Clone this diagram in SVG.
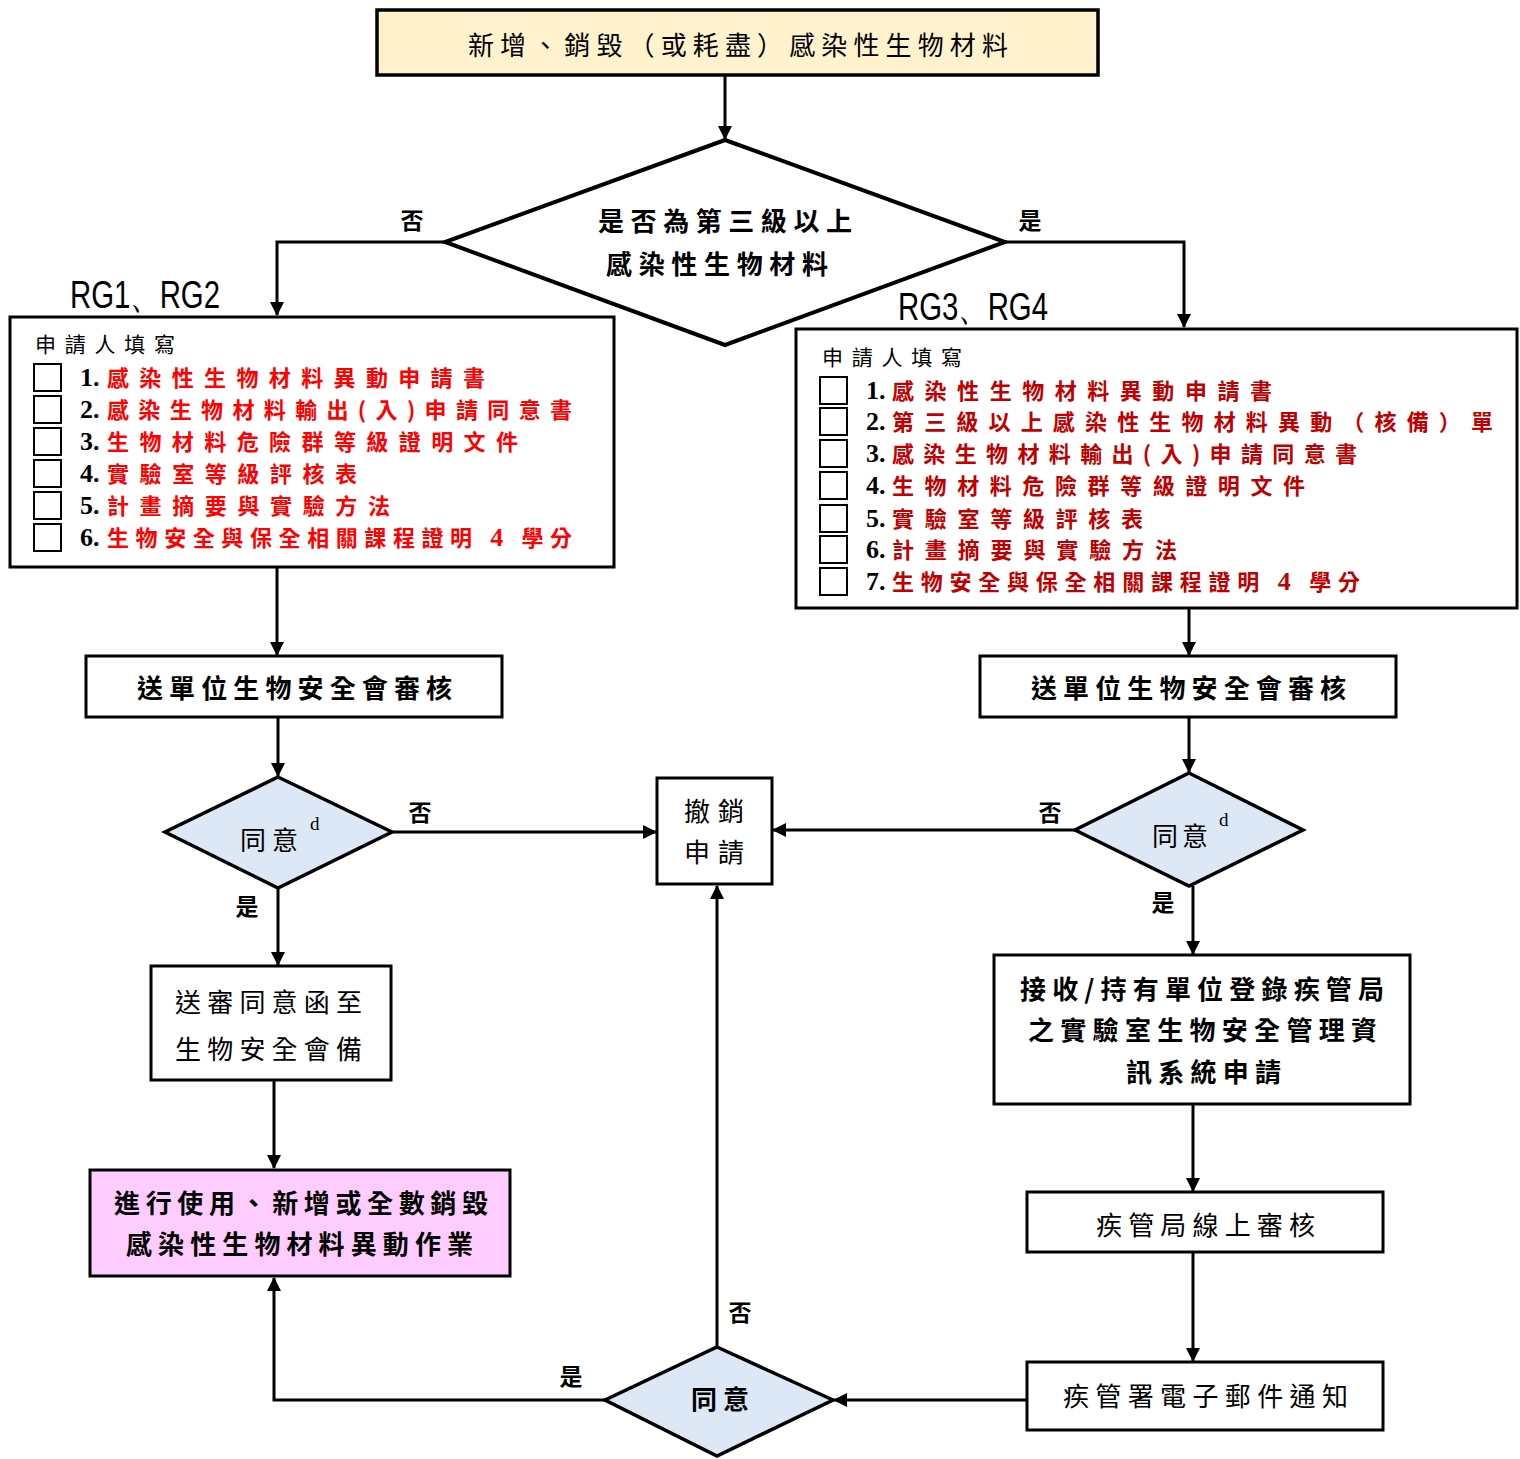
<svg xmlns="http://www.w3.org/2000/svg" width="1520" height="1459" viewBox="0 0 1520 1459">
<style>
text{font-family:"Noto Sans CJK TC","Noto Sans CJK SC",sans-serif;fill:#000;}
.box{fill:#fff;stroke:#000;stroke-width:3;}
.dia{fill:#dde8f6;stroke:#000;stroke-width:3.5;}
.t27{font-size:26px;}
.b{font-weight:700;}
.lbl{font-size:23px;font-weight:700;}
.num{font-family:"Liberation Serif",serif;font-weight:700;font-size:26px;}
.red{fill:#ff0000;font-size:22px;font-weight:700;}
.red2{fill:#c00000;font-size:22px;font-weight:700;}
.cb{fill:none;stroke:#000;stroke-width:2;}
.rg{font-family:"Liberation Sans",sans-serif;font-size:38px;}
.sup{font-family:"Liberation Serif",serif;font-size:19px;}
.ln{fill:none;stroke:#000;stroke-width:3;}
</style>
<defs>
<marker id="ah" markerWidth="14" markerHeight="14" refX="13" refY="7" orient="auto" markerUnits="userSpaceOnUse">
<path d="M0,0 L14,7 L0,14 Z" fill="#000"/>
</marker>
</defs>

<g id="connectors">
<path class="ln" d="M725,75 V139" marker-end="url(#ah)"/>
<path class="ln" d="M445,242 H277 V315" marker-end="url(#ah)"/>
<path class="ln" d="M1005,242 H1184 V327" marker-end="url(#ah)"/>
<path class="ln" d="M277,567 V655" marker-end="url(#ah)"/>
<path class="ln" d="M1189,608 V655" marker-end="url(#ah)"/>
<path class="ln" d="M278,717 V776" marker-end="url(#ah)"/>
<path class="ln" d="M1189,717 V772" marker-end="url(#ah)"/>
<path class="ln" d="M392,832 H656" marker-end="url(#ah)"/>
<path class="ln" d="M1075,830 H773" marker-end="url(#ah)"/>
<path class="ln" d="M278,888 V965" marker-end="url(#ah)"/>
<path class="ln" d="M1193,886 V954" marker-end="url(#ah)"/>
<path class="ln" d="M274,1080 V1168" marker-end="url(#ah)"/>
<path class="ln" d="M1193,1104 V1191" marker-end="url(#ah)"/>
<path class="ln" d="M1193,1252 V1361" marker-end="url(#ah)"/>
<path class="ln" d="M1027,1400 H834" marker-end="url(#ah)"/>
<path class="ln" d="M717,1347 V886" marker-end="url(#ah)"/>
<path class="ln" d="M605,1400 H274 V1278" marker-end="url(#ah)"/>
<text class="lbl" x="412" y="229" text-anchor="middle">否</text>
<text class="lbl" x="1030" y="229" text-anchor="middle">是</text>
<text class="lbl" x="420" y="821" text-anchor="middle">否</text>
<text class="lbl" x="247" y="915" text-anchor="middle">是</text>
<text class="lbl" x="1050" y="821" text-anchor="middle">否</text>
<text class="lbl" x="1163" y="911" text-anchor="middle">是</text>
<text class="lbl" x="740" y="1321" text-anchor="middle">否</text>
<text class="lbl" x="571" y="1385" text-anchor="middle">是</text>
<text class="rg" x="70" y="308" textLength="150" lengthAdjust="spacingAndGlyphs">RG1、RG2</text>
<text class="rg" x="898" y="320" textLength="150" lengthAdjust="spacingAndGlyphs">RG3、RG4</text>
</g>

<g id="start">
<rect x="377" y="10" width="721" height="65" fill="#fff2cc" stroke="#000" stroke-width="3.5"/>
<text class="t27" x="468" y="55" textLength="540">新增、銷毀（或耗盡）感染性生物材料</text>
</g>

<g id="decision-level">
<polygon points="725,140 1005,242 725,345 445,242" fill="#fff" stroke="#000" stroke-width="4"/>
<text class="t27 b" x="598" y="231" textLength="254">是否為第三級以上</text>
<text class="t27 b" x="606" y="274" textLength="222">感染性生物材料</text>
</g>

<g id="form-rg12">
<rect class="box" x="10" y="317" width="604" height="250"/>
<text x="35" y="352" font-size="21" textLength="140">申請人填寫</text>
<rect class="cb" x="34" y="364" width="27" height="27"/>
<rect class="cb" x="34" y="396" width="27" height="27"/>
<rect class="cb" x="34" y="428" width="27" height="27"/>
<rect class="cb" x="34" y="460" width="27" height="27"/>
<rect class="cb" x="34" y="492" width="27" height="27"/>
<rect class="cb" x="34" y="524" width="27" height="27"/>
<text class="num" x="80" y="386">1.</text>
<text class="num" x="80" y="418">2.</text>
<text class="num" x="80" y="450">3.</text>
<text class="num" x="80" y="482">4.</text>
<text class="num" x="80" y="514">5.</text>
<text class="num" x="80" y="546">6.</text>
<text class="red" x="107" y="386" textLength="378">感染性生物材料異動申請書</text>
<text class="red" x="107" y="418" textLength="465">感染生物材料輸出(入)申請同意書</text>
<text class="red" x="107" y="450" textLength="411">生物材料危險群等級證明文件</text>
<text class="red" x="107" y="482" textLength="250">實驗室等級評核表</text>
<text class="red" x="107" y="514" textLength="283">計畫摘要與實驗方法</text>
<text class="red" x="107" y="546" textLength="465">生物安全與保全相關課程證明 <tspan font-family="Liberation Serif" font-size="26">4</tspan> 學分</text>
</g>

<g id="form-rg34">
<rect class="box" x="796" y="329" width="721" height="279"/>
<text x="822" y="365" font-size="21" textLength="140">申請人填寫</text>
<rect class="cb" x="820" y="377" width="27" height="27"/>
<rect class="cb" x="820" y="408" width="27" height="27"/>
<rect class="cb" x="820" y="440" width="27" height="27"/>
<rect class="cb" x="820" y="472" width="27" height="27"/>
<rect class="cb" x="820" y="505" width="27" height="27"/>
<rect class="cb" x="820" y="536" width="27" height="27"/>
<rect class="cb" x="820" y="568" width="27" height="27"/>
<text class="num" x="866" y="399">1.</text>
<text class="num" x="866" y="430">2.</text>
<text class="num" x="866" y="462">3.</text>
<text class="num" x="866" y="494">4.</text>
<text class="num" x="866" y="527">5.</text>
<text class="num" x="866" y="558">6.</text>
<text class="num" x="866" y="590">7.</text>
<text class="red2" x="892" y="399" textLength="380">感染性生物材料異動申請書</text>
<text class="red2" x="892" y="430" textLength="601">第三級以上感染性生物材料異動（核備）單</text>
<text class="red2" x="892" y="462" textLength="465">感染生物材料輸出(入)申請同意書</text>
<text class="red2" x="892" y="494" textLength="413">生物材料危險群等級證明文件</text>
<text class="red2" x="892" y="527" textLength="251">實驗室等級評核表</text>
<text class="red2" x="892" y="558" textLength="285">計畫摘要與實驗方法</text>
<text class="red2" x="892" y="590" textLength="468">生物安全與保全相關課程證明 <tspan font-family="Liberation Serif" font-size="26">4</tspan> 學分</text>
</g>

<g id="review-left">
<rect class="box" x="86" y="656" width="416" height="61"/>
<text class="t27 b" x="137" y="698" textLength="315">送單位生物安全會審核</text>
</g>

<g id="review-right">
<rect class="box" x="980" y="656" width="416" height="61"/>
<text class="t27 b" x="1031" y="698" textLength="315">送單位生物安全會審核</text>
</g>

<g id="agree-left">
<polygon class="dia" points="278,777 392,832 278,888 165,832"/>
<text class="t27" x="240" y="850" textLength="58">同意</text>
<text class="sup" x="310" y="830">d</text>
</g>

<g id="agree-right">
<polygon class="dia" points="1189,773 1303,830 1189,886 1075,830"/>
<text class="t27" x="1152" y="846" textLength="56">同意</text>
<text class="sup" x="1219" y="826">d</text>
</g>

<g id="withdraw">
<rect class="box" x="657" y="778" width="115" height="106"/>
<text class="t27" x="684" y="821" textLength="60">撤銷</text>
<text class="t27" x="684" y="862" textLength="60">申請</text>
</g>

<g id="send-letter">
<rect class="box" x="151" y="966" width="240" height="114"/>
<text class="t27" x="175" y="1012" textLength="187">送審同意函至</text>
<text class="t27" x="175" y="1059" textLength="187">生物安全會備</text>
</g>

<g id="proceed">
<rect x="90" y="1170" width="420" height="106" fill="#ffccff" stroke="#000" stroke-width="3"/>
<text class="t27 b" x="114" y="1213" textLength="374">進行使用、新增或全數銷毀</text>
<text class="t27 b" x="126" y="1254" textLength="347">感染性生物材料異動作業</text>
</g>

<g id="register">
<rect class="box" x="994" y="955" width="416" height="149"/>
<text class="t27 b" x="1020" y="999" textLength="364">接收/持有單位登錄疾管局</text>
<text class="t27 b" x="1028" y="1040" textLength="349">之實驗室生物安全管理資</text>
<text class="t27 b" x="1126" y="1082" textLength="155">訊系統申請</text>
</g>

<g id="cdc-review">
<rect class="box" x="1027" y="1192" width="356" height="60"/>
<text class="t27" x="1096" y="1235" textLength="219">疾管局線上審核</text>
</g>

<g id="cdc-email">
<rect class="box" x="1027" y="1362" width="356" height="68"/>
<text class="t27" x="1063" y="1406" textLength="285">疾管署電子郵件通知</text>
</g>

<g id="agree-bottom">
<polygon class="dia" points="717,1347 833,1400 717,1456 605,1400"/>
<text class="t27 b" x="691" y="1409" textLength="58">同意</text>
</g>
</svg>
